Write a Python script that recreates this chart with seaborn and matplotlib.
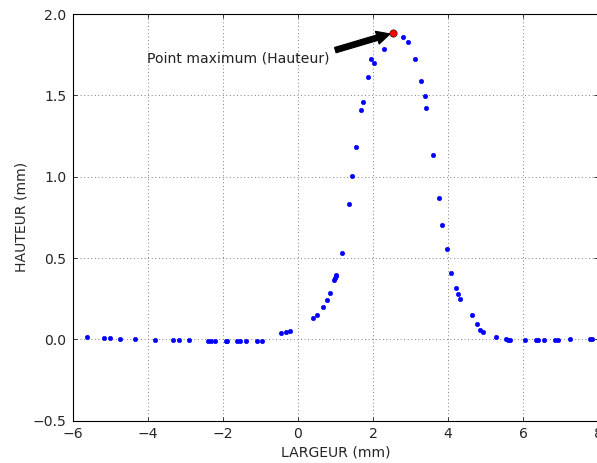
import matplotlib
matplotlib.use("Agg")
import matplotlib.pyplot as plt
import numpy as np
import pandas as pd
import seaborn as sns

# Profile points (mm)
largeur = [
    -5.63, -5.17, -5.01, -4.74, -4.34, -3.82, -3.33, -3.17, -2.91, -2.39,
    -2.32, -2.21, -1.93, -1.89, -1.62, -1.54, -1.39, -1.09, -0.95,
    -0.45, -0.33, -0.21, 0.40, 0.50, 0.67, 0.77, 0.85, 0.97, 0.99, 1.00,
    1.01, 1.17, 1.35,
    1.45, 1.54, 1.67, 1.72, 1.86, 1.94, 2.02, 2.28, 2.54, 2.79, 2.92,
    3.13, 3.29, 3.38, 3.42, 3.61,
    3.76, 3.85, 3.96, 4.07, 4.21, 4.26, 4.32, 4.64, 4.76, 4.84, 4.94, 5.28,
    5.54, 5.59, 5.64, 6.06, 6.35, 6.41, 6.56, 6.86, 6.93, 7.25, 7.79, 7.84,
]
hauteur = [
    0.014, 0.008, 0.008, 0.004, 0.004, -0.002, -0.006, -0.006, -0.006, -0.012,
    -0.012, -0.012, -0.012, -0.012, -0.012, -0.012, -0.012, -0.012, -0.009,
    0.037, 0.047, 0.053, 0.129, 0.151, 0.197, 0.240, 0.287, 0.365, 0.377, 0.389,
    0.397, 0.533, 0.830,
    1.004, 1.185, 1.410, 1.461, 1.613, 1.724, 1.701, 1.785, 1.884, 1.859, 1.827,
    1.724, 1.587, 1.498, 1.424, 1.133,
    0.867, 0.705, 0.554, 0.406, 0.314, 0.280, 0.250, 0.149, 0.094, 0.057, 0.045, 0.014,
    0.000, -0.004, -0.006, -0.006, -0.006, -0.006, -0.006, -0.006, -0.002, 0.000, 0.004, 0.004,
]

x_ticks = [-6, -4, -2, 0, 2, 4, 6, 8]
y_ticks = [-0.5, 0.0, 0.5, 1.0, 1.5, 2.0]


def main():
    font_size = 12.6

    sns.set_style("ticks")
    plt.rcParams["font.family"] = ["DejaVu Sans"]
    plt.rcParams["font.size"] = font_size

    df = pd.DataFrame({"largeur": largeur, "hauteur": hauteur})
    peak = df.loc[[df["hauteur"].idxmax()]]

    fig = plt.figure(figsize=(597 / 80, 463 / 80), dpi=80)
    ax = fig.add_axes([73 / 597, (463 - 420.6) / 463, 525 / 597, 406.5 / 463])

    sns.scatterplot(
        data=df, x="largeur", y="hauteur", color="blue", edgecolor="blue",
        s=16, linewidth=0.5, ax=ax, zorder=3,
    )
    # highlight the maximum
    sns.scatterplot(
        data=peak, x="largeur", y="hauteur", color="red", edgecolor="black",
        s=44, linewidth=0.5, ax=ax, zorder=4,
    )

    ax.annotate(
        "Point maximum (Hauteur)",
        xy=(peak["largeur"].iloc[0], peak["hauteur"].iloc[0]),
        xytext=(-4.03, 1.70),
        fontsize=font_size,
        color="#222222",
        arrowprops=dict(facecolor="black", edgecolor="black", shrink=0.05,
                        width=5, headwidth=12, headlength=12),
    )

    ax.set_xlim(-6, 8)
    ax.set_ylim(-0.5, 2.0)
    ax.set_xticks(x_ticks)
    ax.set_yticks(y_ticks)
    ax.set_xlabel("LARGEUR (mm)", fontsize=font_size)
    ax.set_ylabel("HAUTEUR (mm)", fontsize=font_size)
    ax.tick_params(direction="in", top=True, right=True, length=4, width=0.8,
                   labelsize=font_size, pad=6)
    ax.grid(True, color="#666666", linestyle=(0, (1, 3)), linewidth=0.8)
    for side in ax.spines.values():
        side.set_linewidth(1.0)
        side.set_color("black")

    fig.savefig("out.png", dpi=80)
    plt.close(fig)


if __name__ == "__main__":
    main()
